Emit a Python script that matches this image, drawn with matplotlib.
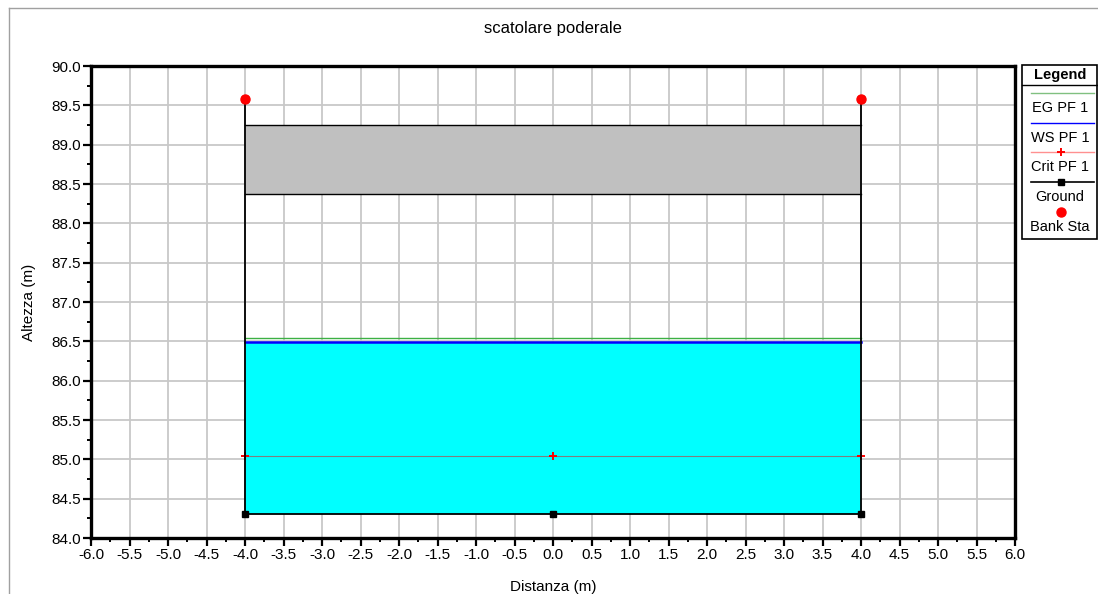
import numpy as np
import matplotlib
matplotlib.use("Agg")
import matplotlib.pyplot as plt
from matplotlib.ticker import MultipleLocator, FormatStrFormatter
from matplotlib.lines import Line2D
from matplotlib.patches import Rectangle

plt.rcParams['font.family'] = ['Liberation Sans', 'DejaVu Sans']

# Cross section geometry (station, elevation)
ground_sta = [-4.0, -4.0, 0.0, 4.0, 4.0]
ground_elev = [89.58, 84.30, 84.30, 84.30, 89.58]
bank_sta = [-4.0, 4.0]
bank_elev = [89.58, 89.58]

# Culvert deck
deck_sta = [-4.0, 4.0]
deck_low = 88.37
deck_high = 89.25

# Profile PF 1
eg_elev = 86.54
ws_elev = 86.49
crit_elev = 85.04
crit_sta = [-4.0, 0.0, 4.0]

W, H = 1098, 594
fig = plt.figure(figsize=(W / 100, H / 100), dpi=100)

def px(x, y):
    return x / W, 1 - y / H

# outer frame of the plot window
fig.add_artist(Line2D([9 / W, 9 / W], [0, 1 - 8 / H], color='#a0a0a0', lw=1.0))
fig.add_artist(Line2D([9 / W, 1], [1 - 8 / H, 1 - 8 / H], color='#a0a0a0', lw=1.0))

ax = fig.add_axes([91 / W, (H - 538) / H, (1015 - 91) / W, (538 - 66) / H])

# water, opening and deck
ax.fill_between(deck_sta, ground_elev[1], ws_elev, color='#00ffff', lw=0, zorder=2)
ax.fill_between(deck_sta, deck_low, deck_high, color='#c0c0c0', lw=0, zorder=2)
ax.plot(deck_sta, [deck_low, deck_low], color='black', lw=1.0, zorder=3)
ax.plot(deck_sta, [deck_high, deck_high], color='black', lw=1.0, zorder=3)

ax.plot(deck_sta, [eg_elev, eg_elev], color='#3cb043', lw=1.0, zorder=4)
ax.plot(deck_sta, [ws_elev, ws_elev], color='#0000ff', lw=1.8, zorder=4)
ax.plot(crit_sta, [crit_elev] * len(crit_sta), color='red', alpha=0.5, lw=0.8, zorder=4)
ax.plot(crit_sta, [crit_elev] * len(crit_sta), ls='none', marker='+', ms=6,
        mew=1.4, color='red', zorder=5)

ax.plot(ground_sta, ground_elev, color='black', lw=1.3, marker='s', ms=5,
        zorder=5)
ax.plot(bank_sta, bank_elev, ls='none', marker='o', ms=6.5, color='red',
        zorder=6)

ax.set_xlim(-6, 6)
ax.set_ylim(84, 90)
ax.xaxis.set_major_locator(MultipleLocator(0.5))
ax.xaxis.set_minor_locator(MultipleLocator(0.25))
ax.yaxis.set_major_locator(MultipleLocator(0.5))
ax.yaxis.set_minor_locator(MultipleLocator(0.25))
ax.xaxis.set_major_formatter(FormatStrFormatter('%.1f'))
ax.yaxis.set_major_formatter(FormatStrFormatter('%.1f'))
ax.grid(True, which='major', color='#c8c8c8', lw=1.3, zorder=0)
ax.set_axisbelow(True)
ax.tick_params(which='major', direction='out', length=6, width=1.6,
               labelsize=11, pad=1)
ax.tick_params(which='minor', direction='out', length=3, width=1.4)
for sp in ax.spines.values():
    sp.set_linewidth(2.4)

ax.set_title('scatolare poderale', fontsize=12, pad=24)
ax.set_xlabel('Distanza (m)', fontsize=11, labelpad=13)
ax.set_ylabel('Altezza (m)', fontsize=11, labelpad=11)

# legend box
fig.add_artist(Rectangle(px(1022, 239), (1097 - 1022) / W, (239 - 65) / H,
                         transform=fig.transFigure, fill=False, lw=1.2,
                         edgecolor='black'))
fig.add_artist(Line2D([1022 / W, 1097 / W], [1 - 85 / H] * 2, color='black', lw=1.0))
fig.text(*px(1060, 75), 'Legend', ha='center', va='center', fontsize=10.5,
         fontweight='bold')

entries = [
    ('EG PF 1', dict(color='#80c080', lw=1.0), None),
    ('WS PF 1', dict(color='#0000ff', lw=1.0), None),
    ('Crit PF 1', dict(color='#ff9090', lw=1.0), dict(marker='+', ms=6, mew=1.4, color='red')),
    ('Ground', dict(color='black', lw=1.2), dict(marker='s', ms=5, color='black')),
    ('Bank Sta', None, dict(marker='o', ms=6.5, color='red')),
]
y0 = 93
for name, line_kw, mk_kw in entries:
    if line_kw:
        fig.add_artist(Line2D([1031 / W, 1094 / W], [1 - y0 / H] * 2, **line_kw))
    if mk_kw:
        fig.add_artist(Line2D([1061 / W], [1 - y0 / H], ls='none', **mk_kw))
    fig.text(*px(1060, y0 + 15), name, ha='center', va='center', fontsize=10.5)
    y0 += 29.7

fig.savefig('out.png', dpi=100)
